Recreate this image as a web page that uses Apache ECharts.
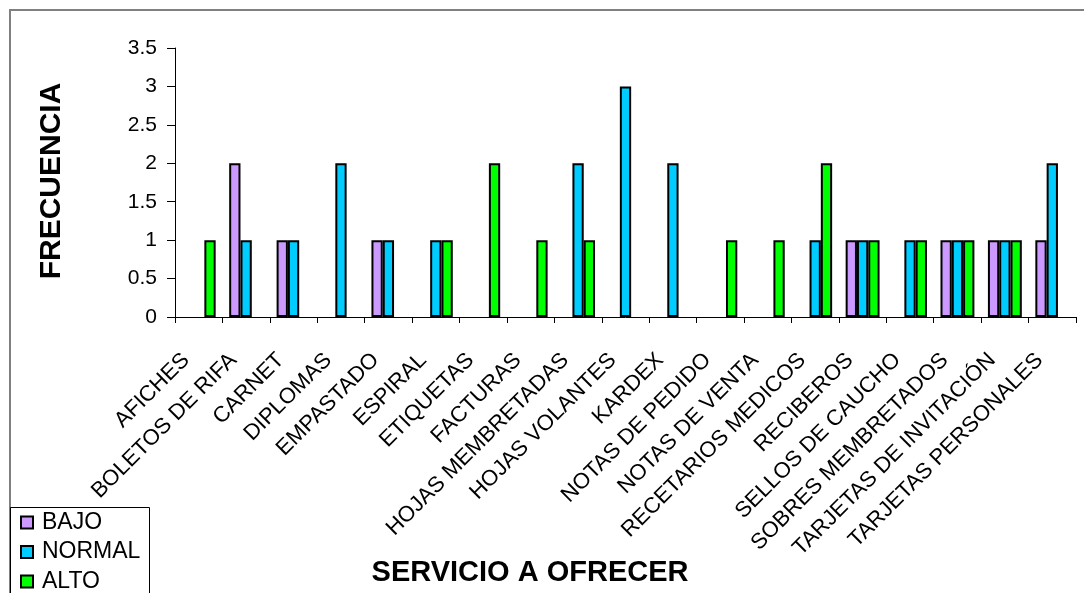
<!DOCTYPE html>
<html>
<head>
<meta charset="utf-8">
<script src="https://cdn.jsdelivr.net/npm/echarts@6/dist/echarts.min.js"></script>
<style>html,body{margin:0;padding:0;background:#fff}#c{width:1084px;height:593px}</style>
</head>
<body>
<div id="c"></div>
<script>
const categories = ["AFICHES","BOLETOS DE RIFA","CARNET","DIPLOMAS","EMPASTADO","ESPIRAL","ETIQUETAS","FACTURAS","HOJAS MEMBRETADAS","HOJAS VOLANTES","KARDEX","NOTAS DE PEDIDO","NOTAS DE VENTA","RECETARIOS MEDICOS","RECIBEROS","SELLOS DE CAUCHO","SOBRES MEMBRETADOS","TARJETAS DE INVITACIÓN","TARJETAS PERSONALES"];
const bajo   = [0,2,1,0,1,0,0,0,0,0,0,0,0,0,1,0,1,1,1];
const normal = [0,1,1,2,1,1,0,0,2,3,2,0,0,1,1,1,1,1,2];
const alto   = [1,0,0,0,0,1,2,1,1,0,0,1,1,2,1,1,1,1,0];
const seriesNames = ["BAJO","NORMAL","ALTO"];
const colors = ["#CC99FF","#00CCFF","#00FF00"];
const yTitle = "FRECUENCIA";
const xTitle = "SERVICIO A OFRECER";

const font = "'Liberation Sans', Arial, sans-serif";
const chart = echarts.init(document.getElementById('c'), null, {renderer:'canvas'});
// zero values are not drawn (as in the original chart)
const mk = (name, data, color) => ({
  name, type:'bar', data: data.map(v => v === 0 ? '-' : v), barWidth: 11.3, barGap: '0%',
  itemStyle:{color, borderColor:'#000', borderWidth:2},
  emphasis:{disabled:true}, animation:false
});
chart.setOption({
  animation:false,
  backgroundColor:'#fff',
  grid:{left:175, right:8, top:48, bottom:276, containLabel:false},
  xAxis:{
    type:'category', data:categories,
    axisLine:{lineStyle:{color:'#000', width:1}},
    axisTick:{show:true, length:6, alignWithLabel:false, lineStyle:{color:'#000'}},
    axisLabel:{rotate:45, interval:0, fontFamily:font, fontSize:22, color:'#000', margin:27, padding:[0,18,0,0]}
  },
  yAxis:{
    type:'value', min:0, max:3.5, interval:0.5,
    axisLine:{show:true, lineStyle:{color:'#000', width:1}},
    axisTick:{show:true, length:8, lineStyle:{color:'#000'}},
    splitLine:{show:false},
    axisLabel:{fontFamily:font, fontSize:21, color:'#000', margin:18}
  },
  legend:{
    orient:'vertical', left:20, top:511, itemGap:6.5, padding:0,
    itemWidth:12, itemHeight:12, icon:'rect',
    textStyle:{fontFamily:font, fontSize:23, color:'#000', padding:[0,0,0,4]},
    data:seriesNames
  },
  graphic:[
    {type:'rect', shape:{x:10, y:10, width:1090, height:600}, style:{fill:null, stroke:'#808080', lineWidth:2}, silent:true, z:-1},
    {type:'rect', shape:{x:10.5, y:507.5, width:139, height:100}, style:{fill:null, stroke:'#000', lineWidth:1}, silent:true},
    {type:'text', x:530, y:573, silent:true,
     style:{text:xTitle, font:"bold 29px 'Liberation Sans', Arial, sans-serif", fill:'#000', textAlign:'center', textVerticalAlign:'middle'}},
    {type:'text', x:52, y:181, rotation:Math.PI/2, silent:true,
     style:{text:yTitle, font:"bold 30px 'Liberation Sans', Arial, sans-serif", fill:'#000', textAlign:'center', textVerticalAlign:'middle'}}
  ],
  series:[
    mk(seriesNames[0], bajo, colors[0]),
    mk(seriesNames[1], normal, colors[1]),
    mk(seriesNames[2], alto, colors[2])
  ]
});
</script>
</body>
</html>
